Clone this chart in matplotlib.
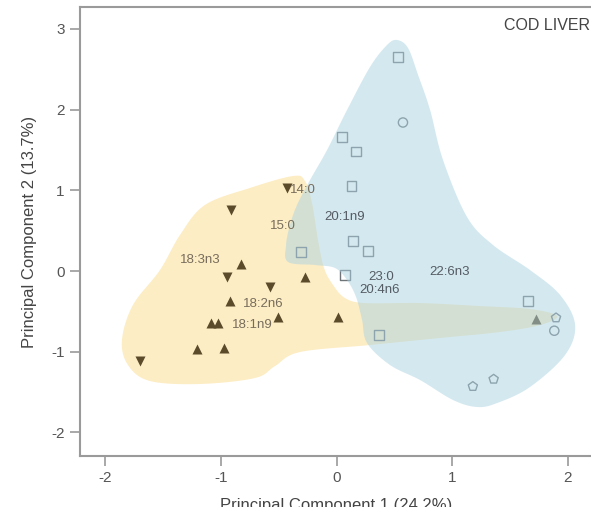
import numpy as np
import matplotlib
matplotlib.use("Agg")
import matplotlib.pyplot as plt

plt.rcParams['font.family'] = ['Liberation Sans', 'DejaVu Sans']
plt.rcParams['axes.unicode_minus'] = False

# --- data ---
tri_down_x = [-0.43, -0.91, -0.95, -0.58, -1.70]
tri_down_y = [1.03, 0.76, -0.07, -0.20, -1.12]
tri_up_x = [-0.83, -0.27, -0.92, -1.09, -1.03, -0.51, 0.01, -1.21, -0.97, 1.73]
tri_up_y = [0.09, -0.08, -0.37, -0.64, -0.64, -0.57, -0.57, -0.97, -0.95, -0.59]
square_x = [0.535, 0.045, 0.17, 0.13, 0.145, 0.275, 0.07, -0.31, 0.37, 1.655]
square_y = [2.65, 1.66, 1.48, 1.05, 0.375, 0.25, -0.05, 0.24, -0.79, -0.37]
circle_x = [0.575, 1.885]
circle_y = [1.84, -0.74]
pent_x = [1.90, 1.36, 1.18]
pent_y = [-0.58, -1.34, -1.43]

labels = ['14:0', '15:0', '18:3n3', '18:2n6', '18:1n9',
          '20:1n9', '23:0', '20:4n6', '22:6n3']
label_x = [-0.29, -0.46, -1.18, -0.63, -0.73, 0.07, 0.385, 0.375, 0.98]
label_y = [1.00, 0.56, 0.14, -0.41, -0.67, 0.67, -0.08, -0.23, -0.01]
label_group = ['y', 'y', 'y', 'y', 'y', 'b', 'b', 'b', 'b']

# outlines of the two shaded groups
yellow_x = [-0.377, -0.273, -0.212, -0.160, -0.108, -0.030, 0.074, 0.247, 0.723,
            1.242, 1.675, 1.909, 1.762, 1.416, 0.896, 0.290, -0.316, -0.532,
            -0.706, -1.182, -1.615, -1.805, -1.857, -1.762, -1.528, -1.355,
            -1.139, -0.749]
yellow_y = [1.177, 1.115, 0.843, 0.384, 0.037, -0.173, -0.335, -0.397, -0.397,
            -0.434, -0.471, -0.558, -0.669, -0.756, -0.830, -0.917, -1.004,
            -1.177, -1.326, -1.400, -1.363, -1.165, -0.855, -0.421, 0.012,
            0.446, 0.818, 1.029]
blue_x = [0.524, 0.619, 0.706, 0.810, 0.922, 1.130, 1.355, 1.675, 1.935, 2.065,
          1.978, 1.675, 1.390, 1.216, 1.009, 0.723, 0.463, 0.264, 0.221, 0.169,
          0.091, -0.013, -0.186, -0.420, -0.437, -0.403, -0.342, -0.229, -0.082,
          0.091, 0.290, 0.437]
blue_y = [2.862, 2.763, 2.429, 1.995, 1.375, 0.669, 0.322, 0.012, -0.297, -0.669,
          -1.041, -1.437, -1.636, -1.685, -1.599, -1.351, -1.165, -0.892, -0.607,
          -0.322, -0.112, 0.037, 0.074, 0.112, 0.322, 0.570, 0.818, 1.128, 1.499,
          1.995, 2.528, 2.800]


def smooth_closed(xs, ys, n=20):
    # closed Catmull-Rom curve through the outline points
    p = np.column_stack([xs, ys])
    m = len(p)
    out = []
    t = np.linspace(0, 1, n, endpoint=False)[:, None]
    for i in range(m):
        p0, p1, p2, p3 = p[i - 1], p[i], p[(i + 1) % m], p[(i + 2) % m]
        seg = 0.5 * ((2 * p1) + (-p0 + p2) * t
                     + (2 * p0 - 5 * p1 + 4 * p2 - p3) * t ** 2
                     + (-p0 + 3 * p1 - 3 * p2 + p3) * t ** 3)
        out.append(seg)
    out = np.vstack(out)
    return out[:, 0], out[:, 1]


fig = plt.figure(figsize=(5.91, 5.07), dpi=100)
ax = fig.add_axes([0.1354, 0.1006, 0.868, 0.8856])

yx, yy = smooth_closed(yellow_x, yellow_y)
ax.fill(yx, yy, color='#fdedc4', lw=0, zorder=1)

ax.scatter(tri_down_x, tri_down_y, marker='v', s=52, color='#5b4b2b', lw=0, zorder=2)
ax.scatter(tri_up_x, tri_up_y, marker='^', s=52, color='#5b4b2b', lw=0, zorder=2)
ax.scatter(square_x, square_y, marker='s', s=50, facecolor='none',
           edgecolor='#6f7479', lw=1.0, zorder=2)
ax.scatter(circle_x, circle_y, marker='o', s=44, facecolor='none',
           edgecolor='#6f7479', lw=1.0, zorder=2)
ax.scatter(pent_x, pent_y, marker='p', s=48, facecolor='none',
           edgecolor='#6f7479', lw=1.0, zorder=2)

bx, by = smooth_closed(blue_x, blue_y)
ax.fill(bx, by, color='#abd3e1', alpha=0.5, lw=0, zorder=3)

label_colors = {'y': '#776d5c', 'b': '#555b62'}
for name, lx, ly, g in zip(labels, label_x, label_y, label_group):
    ax.text(lx, ly, name, fontsize=9.5, color=label_colors[g],
            ha='center', va='center', zorder=4)

ax.text(2.19, 3.04, 'COD LIVER', fontsize=11.5, color='#444444',
        ha='right', va='center', zorder=4)

ax.set_xlim(-2.22, 2.22)
ax.set_ylim(-2.292, 3.271)
ax.set_xticks([-2, -1, 0, 1, 2])
ax.set_yticks([-2, -1, 0, 1, 2, 3])
for s in ax.spines.values():
    s.set_color('#9a9a9a')
    s.set_linewidth(1.5)
ax.tick_params(direction='out', length=7, width=1.2, color='#9a9a9a',
               labelsize=11, labelcolor='#555555', pad=4)

ax.set_xlabel('Principal Component 1 (24.2%)', fontsize=12, color='#444444', labelpad=9)
ax.set_ylabel('Principal Component 2 (13.7%)', fontsize=12, color='#444444', labelpad=10)

fig.savefig('out.png', dpi=100)
